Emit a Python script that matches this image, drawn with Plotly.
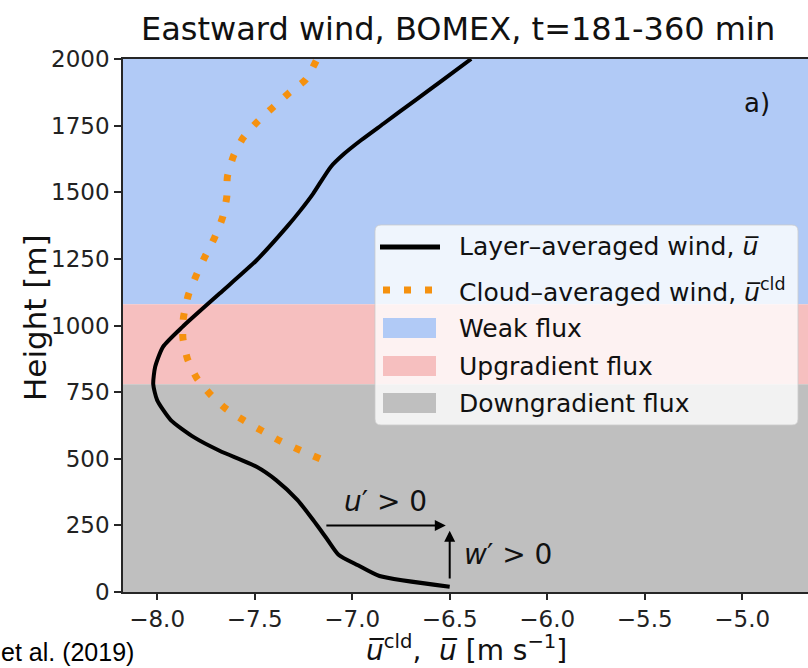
import plotly.graph_objects as go

# ---- data -------------------------------------------------------------
# Layer-averaged eastward wind profile
height_u = [20, 60, 100, 140, 200, 270, 345, 420, 470, 530, 580, 645, 720,
            780, 845, 920, 995, 1120, 1245, 1370, 1432, 1495, 1595, 1645,
            1695, 1757, 1845, 1920, 2000]
u_layer = [-6.50, -6.86, -6.97, -7.07, -7.13, -7.20, -7.28, -7.39, -7.49,
           -7.68, -7.81, -7.93, -8.00, -8.02, -8.01, -7.97, -7.87, -7.68,
           -7.49, -7.335, -7.265, -7.20, -7.11, -7.04, -6.955, -6.84,
           -6.677, -6.538, -6.39]

# Cloud-averaged eastward wind profile
height_c = [500, 532, 567, 605, 645, 689, 742, 803, 876, 954, 1030, 1114,
            1187, 1255, 1329, 1404, 1482, 1557, 1635, 1705, 1766, 1820,
            1874, 1923, 2000]
u_cloud = [-7.165, -7.267, -7.37, -7.463, -7.558, -7.65, -7.728, -7.797,
           -7.845, -7.868, -7.865, -7.84, -7.80, -7.757, -7.706, -7.665,
           -7.643, -7.64, -7.609, -7.558, -7.484, -7.404, -7.322, -7.238,
           -7.18]

# Flux regimes (bottom, top) in metres
band_names = ["Weak flux", "Upgradient flux", "Downgradient flux"]
band_bottom = [1080, 780, 0]
band_top = [2000, 1080, 780]
band_colors = ["rgb(177,202,246)", "rgb(246,191,191)", "rgb(191,191,191)"]

x_ticks = [-8.0, -7.5, -7.0, -6.5, -6.0, -5.5, -5.0]
y_ticks = [0, 250, 500, 750, 1000, 1250, 1500, 1750, 2000]

X_RANGE = [-8.175, -4.663]
Y_RANGE = [0, 2000]

# ---- layout geometry (pixels) ----------------------------------------
W, H = 808, 668
ML, MR, MT, MB = 123, 0, 59, 76
PW, PH = W - ML - MR, H - MT - MB


def px(x):
    return (x - ML) / PW


def py(y):
    return (H - MB - y) / PH


FONT = "DejaVu Sans, Verdana, sans-serif"
TXT = "#111111"
ORANGE = "rgb(245,145,15)"

fig = go.Figure()

fig.add_trace(go.Scatter(
    x=u_layer, y=height_u, mode="lines", name="Layer-averaged wind",
    line=dict(color="black", width=4, shape="spline", smoothing=0.6),
    showlegend=False))
fig.add_trace(go.Scatter(
    x=u_cloud, y=height_c, mode="lines", name="Cloud-averaged wind",
    line=dict(color=ORANGE, width=7, dash="7px,14px", shape="spline",
              smoothing=0.6),
    showlegend=False))

shapes = []
for b0, b1, c in zip(band_bottom, band_top, band_colors):
    shapes.append(dict(type="rect", xref="x domain", yref="y", x0=0, x1=1,
                       y0=b0, y1=b1, fillcolor=c, line=dict(width=0),
                       layer="below"))

# legend box with rounded corners
lx0, lx1, ly0, ly1 = 375, 798, 225, 425
r = 6
X0, X1 = px(lx0), px(lx1)
YT, YB = py(ly0), py(ly1)
rx, ry = r / PW, r / PH
path = (f"M{X0+rx},{YT} L{X1-rx},{YT} Q{X1},{YT} {X1},{YT-ry} "
        f"L{X1},{YB+ry} Q{X1},{YB} {X1-rx},{YB} L{X0+rx},{YB} "
        f"Q{X0},{YB} {X0},{YB+ry} L{X0},{YT-ry} Q{X0},{YT} {X0+rx},{YT} Z")
shapes.append(dict(type="path", xref="paper", yref="paper", path=path,
                   fillcolor="rgba(255,255,255,0.8)",
                   line=dict(color="rgba(204,204,204,0.8)", width=1),
                   layer="above"))

# legend samples
row_y = [247, 290, 328, 366, 403]
shapes.append(dict(type="line", xref="paper", yref="paper",
                   x0=px(380), x1=px(440), y0=py(row_y[0]), y1=py(row_y[0]),
                   line=dict(color="black", width=5), layer="above"))
shapes.append(dict(type="line", xref="paper", yref="paper",
                   x0=px(383), x1=px(436), y0=py(row_y[1]), y1=py(row_y[1]),
                   line=dict(color=ORANGE, width=7, dash="7px,14px"),
                   layer="above"))
for ry_, c in zip(row_y[2:], band_colors):
    shapes.append(dict(type="rect", xref="paper", yref="paper",
                       x0=px(383), x1=px(436), y0=py(ry_ + 10),
                       y1=py(ry_ - 10), fillcolor=c, line=dict(width=0),
                       layer="above"))

legend_text = ["Layer–averaged wind, <i>u\u0305</i>",
               "Cloud–averaged wind, <i>u\u0305</i><sup>cld</sup>"] + band_names

annotations = []
for t, ry_ in zip(legend_text, row_y):
    annotations.append(dict(xref="paper", yref="paper", x=px(457), y=py(ry_),
                            text=t, showarrow=False, xanchor="left",
                            yanchor="middle",
                            font=dict(family=FONT, size=25, color=TXT)))

# perturbation arrows
annotations.append(dict(x=-6.52, y=250, ax=-7.14, ay=250, xref="x", yref="y",
                        axref="x", ayref="y", text="", showarrow=True,
                        arrowhead=2, arrowsize=1.1, arrowwidth=2,
                        arrowcolor="black", standoff=0))
annotations.append(dict(x=-6.50, y=230, ax=-6.50, ay=45, xref="x", yref="y",
                        axref="x", ayref="y", text="", showarrow=True,
                        arrowhead=2, arrowsize=1.1, arrowwidth=2,
                        arrowcolor="black", standoff=0))
annotations.append(dict(x=-6.827, y=338, xref="x", yref="y",
                        text="<i>u</i>′ > 0", showarrow=False,
                        font=dict(family=FONT, size=28, color=TXT)))
annotations.append(dict(x=-6.203, y=142, xref="x", yref="y",
                        text="<i>w</i>′ > 0", showarrow=False,
                        font=dict(family=FONT, size=28, color=TXT)))
annotations.append(dict(x=-4.925, y=1835, xref="x", yref="y", text="a)",
                        showarrow=False,
                        font=dict(family=FONT, size=26, color=TXT)))

# title, axis titles, source note
annotations.append(dict(xref="paper", yref="paper", x=px(458), y=py(29),
                        text="Eastward wind, BOMEX, t=181-360 min",
                        showarrow=False, xanchor="center", yanchor="middle",
                        font=dict(family=FONT, size=32, color=TXT)))
annotations.append(dict(xref="paper", yref="paper", x=px(466), y=py(648),
                        text="<i>u\u0305</i><sup>cld</sup>,  <i>u\u0305</i> [m s<sup>−1</sup>]",
                        showarrow=False, xanchor="center", yanchor="middle",
                        font=dict(family=FONT, size=28, color=TXT)))
annotations.append(dict(xref="paper", yref="paper", x=px(35), y=py(318),
                        text="Height [m]", textangle=-90, showarrow=False,
                        xanchor="center", yanchor="middle",
                        font=dict(family=FONT, size=31, color=TXT)))
annotations.append(dict(xref="paper", yref="paper", x=px(-1), y=py(652),
                        text="et al. (2019)", showarrow=False,
                        xanchor="left", yanchor="middle",
                        font=dict(family="Liberation Sans, Arial, sans-serif",
                                  size=25, color="black")))

fig.update_layout(
    width=W, height=H,
    margin=dict(l=ML, r=MR, t=MT, b=MB, pad=0),
    paper_bgcolor="white", plot_bgcolor="white",
    showlegend=False,
    shapes=shapes, annotations=annotations,
    xaxis=dict(range=X_RANGE, tickvals=x_ticks,
               ticktext=[f"{v:.1f}".replace("-", "−") for v in x_ticks],
               showgrid=False, zeroline=False, showline=True, mirror=True,
               linecolor="#262626", linewidth=1.5, ticks="outside",
               ticklen=6, tickwidth=1.5, tickcolor="#262626",
               tickfont=dict(family=FONT, size=23, color="#222222")),
    yaxis=dict(range=Y_RANGE, tickvals=y_ticks,
               ticktext=[str(v) for v in y_ticks],
               showgrid=False, zeroline=False, showline=True, mirror=False,
               linecolor="#262626", linewidth=1.5, ticks="outside",
               ticklen=7, tickwidth=1.5, tickcolor="#262626",
               tickfont=dict(family=FONT, size=23, color="#222222")),
)

fig.write_html("out.html")
